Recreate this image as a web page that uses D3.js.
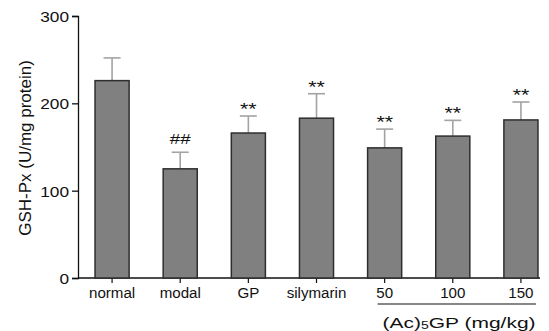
<!DOCTYPE html>
<html>
<head>
<meta charset="utf-8">
<script src="https://cdn.jsdelivr.net/npm/d3@7"></script>
<style>
  body { margin: 0; background: #fff; }
  text { font-family: "Liberation Sans", Arial, sans-serif; fill: #111; }
</style>
</head>
<body>
<div id="chart-area"></div>
<script>
// data
var groups = ["normal", "modal", "GP", "silymarin", "50", "100", "150"];
var means  = [226, 125, 166, 183, 149, 162.5, 181];
var errors = [26, 19, 19.5, 28, 21.5, 18, 20.5];
var marks  = ["", "##", "**", "**", "**", "**", "**"];
var yTicks = [0, 100, 200, 300];

var width = 549, height = 331;

var svg = d3.select("#chart-area")
    .append("svg")
        .attr("width", width)
        .attr("height", height);

var y = d3.scaleLinear()
    .domain([0, 300])
    .range([278, 16]);

var x = d3.scaleBand()
    .domain(groups)
    .range([78, 555])
    .paddingInner(0.5)
    .paddingOuter(0.25);

// y axis
var yAxis = svg.append("g")
    .attr("transform", "translate(78,0)")
    .call(d3.axisLeft(y).tickValues(yTicks).tickSize(6).tickPadding(3));
yAxis.select(".domain").attr("stroke", "#111").attr("stroke-width", 1.3);
yAxis.selectAll(".tick line").attr("stroke", "#111").attr("stroke-width", 1.3);
yAxis.selectAll(".tick text")
    .attr("font-size", "15px")
    .attr("fill", "#111")
    .attr("dy", "0.36em")
    .attr("transform", "translate(-9,0) scale(1.15,1) translate(9,0)");

// x axis
var xAxis = svg.append("g")
    .attr("transform", "translate(0,278)")
    .call(d3.axisBottom(x).tickSize(5).tickFormat(""));
xAxis.select(".domain").remove();
xAxis.selectAll(".tick line").attr("stroke", "#111").attr("stroke-width", 1.2);
svg.append("line")
    .attr("x1", 78).attr("x2", 540)
    .attr("y1", y(0)).attr("y2", y(0))
    .attr("stroke", "#111")
    .attr("stroke-width", 1.3);

svg.selectAll(".xlabel")
    .data(groups)
    .enter()
    .append("text")
        .attr("class", "xlabel")
        .attr("font-size", "14px")
        .attr("text-anchor", "middle")
        .attr("transform", function(d) {
            return "translate(" + (x(d) + x.bandwidth() / 2) + ",298) scale(1.08,1)";
        })
        .text(function(d) { return d; });

// bracket under doses
svg.append("line")
    .attr("x1", x("50") + 10).attr("x2", x("150") + x.bandwidth() - 2)
    .attr("y1", 304).attr("y2", 304)
    .attr("stroke", "#111")
    .attr("stroke-width", 1.2);

var dose = svg.append("text")
    .attr("font-size", "15px")
    .attr("text-anchor", "middle")
    .attr("transform", "translate(459,328) scale(1.4,1)");
dose.append("tspan").text("(Ac)");
dose.append("tspan").attr("font-size", "10px").attr("dy", "1").text("5");
dose.append("tspan").attr("dy", "-1").text("GP (mg/kg)");

// y label
svg.append("text")
    .attr("font-size", "17px")
    .attr("text-anchor", "middle")
    .attr("transform", "translate(31,148) rotate(-90)")
    .text("GSH-Px (U/mg protein)");

// error bars
var err = svg.selectAll(".err")
    .data(groups)
    .enter()
    .append("g")
        .attr("class", "err");
err.append("line")
    .attr("x1", function(d) { return x(d) + x.bandwidth() / 2; })
    .attr("x2", function(d) { return x(d) + x.bandwidth() / 2; })
    .attr("y1", function(d, i) { return y(means[i]); })
    .attr("y2", function(d, i) { return y(means[i] + errors[i]); })
    .attr("stroke", "#a3a3a3")
    .attr("stroke-width", 1.6);
err.append("line")
    .attr("x1", function(d) { return x(d) + x.bandwidth() / 2 - 8.5; })
    .attr("x2", function(d) { return x(d) + x.bandwidth() / 2 + 8.5; })
    .attr("y1", function(d, i) { return y(means[i] + errors[i]); })
    .attr("y2", function(d, i) { return y(means[i] + errors[i]); })
    .attr("stroke", "#a3a3a3")
    .attr("stroke-width", 1.6);

// bars
svg.selectAll(".bar")
    .data(groups)
    .enter()
    .append("rect")
        .attr("class", "bar")
        .attr("x", function(d) { return x(d); })
        .attr("y", function(d, i) { return y(means[i]); })
        .attr("width", x.bandwidth())
        .attr("height", function(d, i) { return y(0) - y(means[i]); })
        .attr("fill", "#808080")
        .attr("stroke", "#2e2e2e")
        .attr("stroke-width", 1.5);

// significance marks
svg.selectAll(".mark")
    .data(groups)
    .enter()
    .append("text")
        .attr("class", "mark")
        .attr("font-size", function(d, i) { return marks[i] == "##" ? "15px" : "17px"; })
        .attr("text-anchor", "middle")
        .attr("transform", function(d, i) {
            var top = y(means[i] + errors[i]);
            var base = marks[i] == "##" ? top - 8 : top - 1;
            return "translate(" + (x(d) + x.bandwidth() / 2) + "," + base + ") scale(1.25,1)";
        })
        .text(function(d, i) { return marks[i]; });
</script>
</body>
</html>
